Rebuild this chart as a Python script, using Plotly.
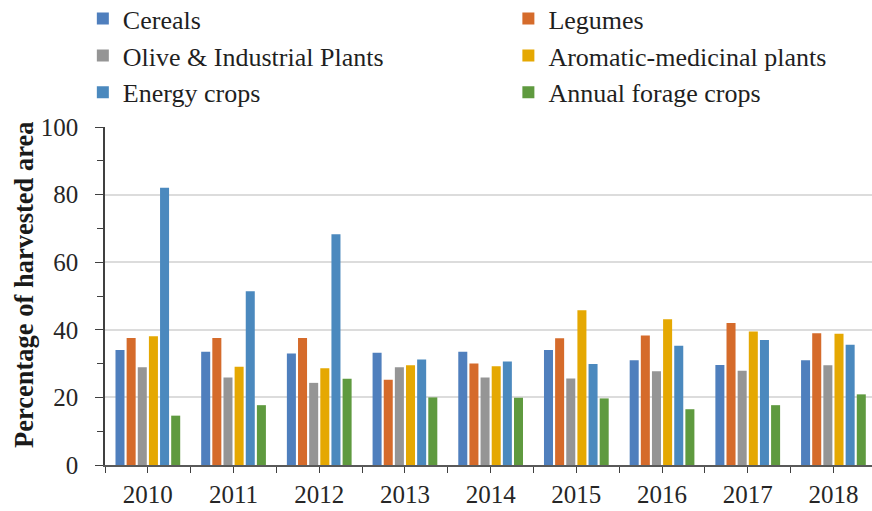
import plotly.graph_objects as go

# Harvested area shares by crop group, 2010-2018
years = ["2010", "2011", "2012", "2013", "2014", "2015", "2016", "2017", "2018"]

cereals = [34.0, 33.5, 33.0, 33.2, 33.5, 34.0, 31.0, 29.6, 31.0]
legumes = [37.6, 37.6, 37.6, 25.2, 30.0, 37.5, 38.3, 42.0, 39.0]
olive_industrial = [28.9, 25.9, 24.3, 28.9, 25.9, 25.6, 27.7, 27.9, 29.5]
aromatic_medicinal = [38.1, 29.1, 28.6, 29.5, 29.2, 45.8, 43.1, 39.5, 38.8]
energy = [82.0, 51.4, 68.3, 31.2, 30.6, 29.9, 35.3, 37.0, 35.6]
annual_forage = [14.6, 17.7, 25.5, 20.0, 19.9, 19.7, 16.5, 17.7, 20.9]

x_pos = list(range(len(years)))

# name, values, colour, which legend column
series = [
    ("Cereals", cereals, "#4f7fbd", "legend"),
    ("Legumes", legumes, "#d56b2b", "legend2"),
    ("Olive & Industrial Plants", olive_industrial, "#959595", "legend"),
    ("Aromatic-medicinal plants", aromatic_medicinal, "#e5a802", "legend2"),
    ("Energy crops", energy, "#4b89be", "legend"),
    ("Annual forage crops", annual_forage, "#5f9a3f", "legend2"),
]

SERIF = "Liberation Serif, Times New Roman, serif"

fig = go.Figure()
for name, vals, color, leg in series:
    fig.add_trace(go.Bar(
        x=x_pos,
        y=vals,
        name=name,
        marker=dict(color=color, line=dict(width=0)),
        legend=leg,
    ))

legend_style = dict(
    orientation="v",
    xref="container",
    yref="paper",
    yanchor="top",
    xanchor="left",
    bgcolor="rgba(0,0,0,0)",
    font=dict(family=SERIF, size=26, color="#1f1f1f"),
    traceorder="normal",
)

fig.update_layout(
    width=872,
    height=511,
    margin=dict(l=105, r=0, t=127, b=46, autoexpand=False),
    plot_bgcolor="white",
    paper_bgcolor="white",
    barmode="group",
    bargap=0.22,
    bargroupgap=0.19,
    legend=dict(x=0.095, y=1.39, **legend_style),
    legend2=dict(x=0.583, y=1.39, **legend_style),
    font=dict(family=SERIF, color="#262626"),
    xaxis=dict(
        range=[-0.5, 8.45],
        tickmode="array",
        tickvals=x_pos,
        ticktext=years,
        ticks="outside",
        ticklen=6,
        tickcolor="#404040",
        tickfont=dict(family=SERIF, size=25, color="#262626"),
        showline=True,
        linecolor="#595959",
        linewidth=1.5,
        showgrid=False,
        zeroline=False,
        minor=dict(tickmode="linear", tick0=-0.5, dtick=1, ticks="outside",
                   ticklen=6, tickcolor="#404040", showgrid=False),
    ),
    yaxis=dict(
        range=[0, 100],
        dtick=20,
        ticks="outside",
        ticklen=8,
        tickcolor="#404040",
        ticklabelstandoff=12,
        tickfont=dict(family=SERIF, size=25, color="#262626"),
        showline=True,
        linecolor="#404040",
        linewidth=1.5,
        showgrid=True,
        gridcolor="#dcdcdc",
        gridwidth=2,
        zeroline=False,
        minor=dict(dtick=10, ticks="outside", ticklen=6, tickcolor="#404040",
                   showgrid=False),
    ),
    annotations=[dict(
        text="<b>Percentage of harvested area</b>",
        textangle=-90,
        xref="paper", yref="paper",
        x=0, xshift=-81,
        y=(465 - 285) / 338.0,
        xanchor="center", yanchor="middle",
        showarrow=False,
        font=dict(family=SERIF, size=26.5, color="#1a1a1a"),
    )],
)

# the page body has a default 8px margin; drop it so the figure sits at 0,0
fig.write_html(
    "out.html",
    config={"displayModeBar": False},
    post_script="document.body.style.margin='0px';",
)
